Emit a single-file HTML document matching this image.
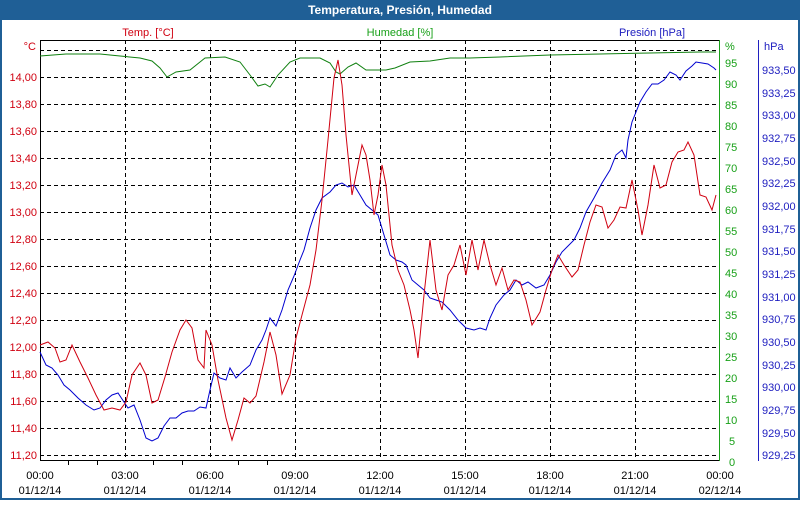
<!DOCTYPE html>
<html><head><meta charset="utf-8"><style>
body{margin:0;background:#fff;}
svg text{font-family:"Liberation Sans","DejaVu Sans",sans-serif;font-size:11px;}
</style></head><body>
<svg width="800" height="500" xmlns="http://www.w3.org/2000/svg">
<rect x="0" y="0" width="800" height="500" fill="#fff"/>
<rect x="0" y="0" width="800" height="20" fill="#1f5f96"/>
<rect x="1" y="1" width="798" height="498" fill="none" stroke="#1f5f96" stroke-width="2"/>
<text x="400" y="14" text-anchor="middle" fill="#fff" font-weight="bold" style="font-size:12px">Temperatura, Presión, Humedad</text>
<text x="148" y="36" text-anchor="middle" fill="#d00010">Temp. [°C]</text>
<text x="400" y="36" text-anchor="middle" fill="#18a018">Humedad [%]</text>
<text x="652" y="36" text-anchor="middle" fill="#2020c0">Presión [hPa]</text>
<g stroke="#000" stroke-dasharray="4,3" stroke-width="1">
<line x1="40" x2="720" y1="50.5" y2="50.5"/><line x1="40" x2="720" y1="77.5" y2="77.5"/><line x1="40" x2="720" y1="104.5" y2="104.5"/><line x1="40" x2="720" y1="131.5" y2="131.5"/><line x1="40" x2="720" y1="158.5" y2="158.5"/><line x1="40" x2="720" y1="185.5" y2="185.5"/><line x1="40" x2="720" y1="212.5" y2="212.5"/><line x1="40" x2="720" y1="239.5" y2="239.5"/><line x1="40" x2="720" y1="266.5" y2="266.5"/><line x1="40" x2="720" y1="293.5" y2="293.5"/><line x1="40" x2="720" y1="320.5" y2="320.5"/><line x1="40" x2="720" y1="347.5" y2="347.5"/><line x1="40" x2="720" y1="374.5" y2="374.5"/><line x1="40" x2="720" y1="401.5" y2="401.5"/><line x1="40" x2="720" y1="428.5" y2="428.5"/><line x1="40" x2="720" y1="455.5" y2="455.5"/>
<line x1="125.5" x2="125.5" y1="40" y2="461"/><line x1="210.5" x2="210.5" y1="40" y2="461"/><line x1="295.5" x2="295.5" y1="40" y2="461"/><line x1="380.5" x2="380.5" y1="40" y2="461"/><line x1="465.5" x2="465.5" y1="40" y2="461"/><line x1="550.5" x2="550.5" y1="40" y2="461"/><line x1="635.5" x2="635.5" y1="40" y2="461"/>
</g>
<line x1="40.5" y1="40" x2="40.5" y2="461" stroke="#000"/>
<line x1="40" y1="40.5" x2="720" y2="40.5" stroke="#000"/>
<line x1="40" y1="460.5" x2="720" y2="460.5" stroke="#000"/>
<line x1="719.5" y1="40" x2="719.5" y2="461" stroke="#18a018"/>
<line x1="758.5" y1="40" x2="758.5" y2="461" stroke="#2020c0"/>
<g stroke="#000"><line x1="68.5" x2="68.5" y1="461" y2="465"/><line x1="97.5" x2="97.5" y1="461" y2="465"/><line x1="153.5" x2="153.5" y1="461" y2="465"/><line x1="182.5" x2="182.5" y1="461" y2="465"/><line x1="238.5" x2="238.5" y1="461" y2="465"/><line x1="267.5" x2="267.5" y1="461" y2="465"/></g>
<g fill="#d00010" text-anchor="end">
<text x="36" y="50">°C</text>
<text x="37" y="81">14,00</text><text x="37" y="108">13,80</text><text x="37" y="135">13,60</text><text x="37" y="162">13,40</text><text x="37" y="189">13,20</text><text x="37" y="216">13,00</text><text x="37" y="243">12,80</text><text x="37" y="270">12,60</text><text x="37" y="297">12,40</text><text x="37" y="324">12,20</text><text x="37" y="351">12,00</text><text x="37" y="378">11,80</text><text x="37" y="405">11,60</text><text x="37" y="432">11,40</text><text x="37" y="459">11,20</text>
</g>
<g fill="#18a018">
<text x="725" y="50">%</text>
<text x="725" y="67">95</text><text x="725" y="88">90</text><text x="725" y="109">85</text><text x="725" y="130">80</text><text x="725" y="151">75</text><text x="725" y="172">70</text><text x="725" y="193">65</text><text x="725" y="214">60</text><text x="725" y="235">55</text><text x="725" y="256">50</text><text x="725" y="277">45</text><text x="725" y="298">40</text><text x="725" y="319">35</text><text x="725" y="340">30</text><text x="725" y="361">25</text><text x="725" y="382">20</text><text x="725" y="403">15</text><text x="725" y="424">10</text><text x="729" y="445">5</text><text x="729" y="466">0</text>
</g>
<g fill="#2020c0">
<text x="764" y="50">hPa</text>
<text x="762" y="74">933,50</text><text x="762" y="97">933,25</text><text x="762" y="119">933,00</text><text x="762" y="142">932,75</text><text x="762" y="165">932,50</text><text x="762" y="187">932,25</text><text x="762" y="210">932,00</text><text x="762" y="233">931,75</text><text x="762" y="255">931,50</text><text x="762" y="278">931,25</text><text x="762" y="301">931,00</text><text x="762" y="323">930,75</text><text x="762" y="346">930,50</text><text x="762" y="369">930,25</text><text x="762" y="391">930,00</text><text x="762" y="414">929,75</text><text x="762" y="437">929,50</text><text x="762" y="459">929,25</text>
</g>
<g fill="#000" text-anchor="middle">
<text x="40" y="479">00:00</text><text x="40" y="494">01/12/14</text>
<text x="125" y="479">03:00</text><text x="125" y="494">01/12/14</text>
<text x="210" y="479">06:00</text><text x="210" y="494">01/12/14</text>
<text x="295" y="479">09:00</text><text x="295" y="494">01/12/14</text>
<text x="380" y="479">12:00</text><text x="380" y="494">01/12/14</text>
<text x="465" y="479">15:00</text><text x="465" y="494">01/12/14</text>
<text x="550" y="479">18:00</text><text x="550" y="494">01/12/14</text>
<text x="635" y="479">21:00</text><text x="635" y="494">01/12/14</text>
<text x="720" y="479">00:00</text><text x="720" y="494">02/12/14</text>
</g>
<polyline fill="none" stroke="#108010" stroke-width="1" points="40,56 66,54 100,54 120,56 140,58 152,61 160,68 167,77 176,72 190,70 200,62 205,58 225,57 240,62 250,75 258,86 265,84 270,87 278,75 290,62 300,58 320,58 330,63 336,72 340,74 348,67 356,63 366,70 376,70 386,70 395,68 410,62 430,61 450,58 470,58 500,57 550,55 600,54 650,53 700,52 716,52"/>
<polyline fill="none" stroke="#0000d0" stroke-width="1" points="40,352 46,365 52,368 58,375 64,385 70,390 78,398 86,405 94,410 100,408 106,400 112,395 118,393 124,402 128,408 134,405 140,420 146,438 152,441 158,438 164,426 170,418 176,418 182,413 188,411 194,411 200,407 206,408 210,390 214,373 220,378 226,380 230,368 236,378 242,372 250,365 256,350 262,340 266,330 270,318 276,326 282,310 288,290 294,276 300,260 304,250 310,228 316,210 322,198 330,192 336,185 342,183 348,187 354,185 360,195 366,205 372,210 378,215 384,235 390,255 396,260 402,262 406,265 412,280 418,285 424,290 430,298 436,300 442,302 450,310 458,320 466,328 474,330 480,328 486,330 490,318 496,305 504,295 510,290 516,280 522,285 528,282 536,288 544,285 550,275 556,262 562,252 568,246 574,240 580,228 586,212 594,198 602,183 610,170 616,155 622,150 626,158 628,140 632,122 636,112 640,102 646,92 652,84 658,84 664,80 670,72 676,75 680,80 686,71 692,66 696,62 702,63 708,64 714,68 716,70"/>
<polyline fill="none" stroke="#d00010" stroke-width="1" points="40,345 48,342 55,348 60,362 66,360 72,345 80,362 88,378 96,395 104,410 112,408 120,410 126,402 132,375 140,363 146,375 152,403 158,400 165,377 172,352 180,330 186,320 192,328 198,360 204,368 206,330 212,345 218,380 226,418 232,440 238,420 244,398 250,403 256,396 264,362 270,332 276,355 282,394 290,375 296,338 302,315 310,285 316,250 322,200 328,140 334,78 338,60 342,85 346,135 352,195 356,175 362,145 366,155 370,180 374,215 378,195 382,165 386,185 392,245 398,270 404,285 410,310 414,330 418,358 424,295 430,240 436,290 442,310 448,275 454,265 460,245 466,275 472,240 478,270 484,240 490,265 496,285 502,268 508,290 514,280 520,282 526,300 532,325 540,312 546,290 552,270 558,255 564,265 572,277 578,270 584,245 590,222 596,205 602,207 608,228 614,220 620,207 626,208 632,180 638,210 642,235 648,205 654,165 660,188 666,185 672,162 678,152 684,150 688,142 694,155 700,195 706,197 712,210 716,195"/>
</svg>
</body></html>
